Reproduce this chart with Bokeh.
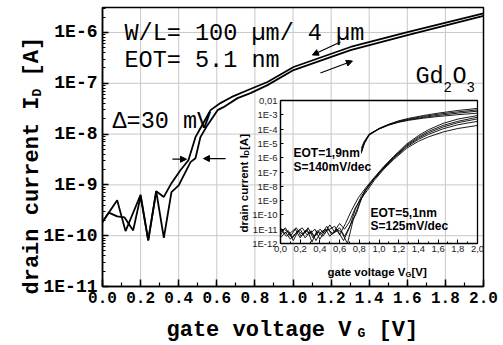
import math
from bokeh.plotting import figure
from bokeh.models import (Range1d, LinearAxis, LogAxis, FixedTicker, Label,
                          Arrow, NormalHead, LogScale)
from bokeh.embed import file_html
from bokeh.resources import INLINE

# ---------------- data ----------------
x_ticks = [0.0, 0.2, 0.4, 0.6, 0.8, 1.0, 1.2, 1.4, 1.6, 1.8, 2.0]
x_tick_labels = ["0.0", "0.2", "0.4", "0.6", "0.8", "1.0", "1.2", "1.4", "1.6", "1.8", "2.0"]
y_ticks = [1e-11, 1e-10, 1e-9, 1e-8, 1e-7, 1e-6]
y_tick_labels = ["1E-11", "1E-10", "1E-9", "1E-8", "1E-7", "1E-6"]

inset_x_labels = ["0,0", "0,2", "0,4", "0,6", "0,8", "1,0", "1,2", "1,4", "1,6", "1,8", "2,0"]
inset_y_ticks = [1e-12, 1e-11, 1e-10, 1e-9, 1e-8, 1e-7, 1e-6, 1e-5, 1e-4, 1e-3, 1e-2]
inset_y_labels = ["1E-12", "1E-11", "1E-10", "1E-9", "1E-8", "1E-7", "1E-6",
                  "1E-5", "1E-4", "1E-3", "0,01"]

# main plot: two sweep directions (hysteresis)
main_v_left = [0.0, 0.033, 0.077, 0.115, 0.161, 0.2, 0.24, 0.282, 0.322, 0.362, 0.409,
               0.451, 0.488, 0.514, 0.567, 0.619, 0.688, 0.761, 0.866, 1.003, 1.302, 1.601, 2.0]
main_i_left = [1.85e-10, 2.85e-10, 2.4e-10, 2.3e-10, 1.27e-10, 5.96e-10, 8.1e-11, 7.5e-10,
               5.8e-10, 1.08e-9, 1.94e-9, 3.05e-9, 8.7e-9, 1.3e-8, 2.96e-8, 4.07e-8, 5.6e-8,
               7.3e-8, 1.06e-7, 2.09e-7, 5.18e-7, 1.02e-6, 2.37e-6]
main_v_right = [0.0, 0.077, 0.121, 0.2, 0.24, 0.282, 0.322, 0.362, 0.4, 0.436, 0.462,
                0.488, 0.514, 0.551, 0.604, 0.635, 0.709, 0.777, 0.866, 1.003, 1.302, 1.601, 2.0]
main_i_right = [1.85e-10, 4.97e-10, 1.23e-10, 6.4e-10, 8.1e-11, 7.5e-10, 9.1e-11, 7.2e-10,
                9.8e-10, 1.8e-9, 2.8e-9, 3.35e-9, 8.7e-9, 1.5e-8, 2.96e-8, 3.39e-8, 5.1e-8,
                6.4e-8, 9.2e-8, 1.82e-7, 4.5e-7, 8.9e-7, 2.11e-6]

# inset: EOT = 1.9 nm bundle
g1_v = [0.82, 0.85, 0.90, 1.0, 1.1, 1.2, 1.3, 1.45, 1.6, 1.8, 2.0]
g1_a = [2.0e-6, 8.9e-6, 4.0e-5, 1.12e-4, 2.2e-4, 3.8e-4, 5.6e-4, 8.9e-4, 1.3e-3, 2.0e-3, 2.8e-3]
g1_b = [3.2e-6, 1.12e-5, 4.2e-5, 1.07e-4, 2.1e-4, 3.5e-4, 5.0e-4, 7.6e-4, 1.1e-3, 1.6e-3, 2.2e-3]
g1_c = [4.5e-6, 1.4e-5, 4.5e-5, 1.05e-4, 2.0e-4, 3.2e-4, 4.5e-4, 6.6e-4, 9.1e-4, 1.3e-3, 1.8e-3]
g1_d = [2.5e-6, 1.0e-5, 3.8e-5, 1.0e-4, 1.9e-4, 3.0e-4, 4.1e-4, 5.8e-4, 7.6e-4, 1.02e-3, 1.3e-3]

# inset: EOT = 5.1 nm bundle
g2_v_a = [0.0, 0.05, 0.10, 0.15, 0.20, 0.25, 0.30, 0.35, 0.40, 0.45, 0.50, 0.55, 0.60, 0.66,
          0.72, 0.79, 0.86, 0.95, 1.05, 1.15, 1.28, 1.40, 1.50, 1.65, 1.80, 2.0]
g2_i_a = [6.3e-12, 1.26e-11, 3.2e-12, 1.0e-11, 2.5e-12, 7.9e-12, 5.0e-12, 1.0e-11, 2.0e-12,
          7.9e-12, 1.0e-11, 1.6e-11, 4.0e-12, 2.5e-11, 2.0e-10, 1.6e-9, 7.1e-9, 4.0e-8, 2.5e-7,
          1.26e-6, 8.9e-6, 3.5e-5, 8.9e-5, 2.5e-4, 5.0e-4, 8.9e-4]
g2_v_b = [0.0, 0.04, 0.09, 0.13, 0.18, 0.23, 0.28, 0.33, 0.38, 0.43, 0.48, 0.53, 0.58, 0.64,
          0.70, 0.76, 0.82, 0.87, 0.95, 1.05, 1.15, 1.28, 1.40, 1.50, 1.65, 1.80, 2.0]
g2_i_b = [4.0e-12, 1.0e-11, 5.0e-12, 1.6e-12, 7.9e-12, 4.0e-12, 1.26e-11, 2.5e-12, 6.3e-12,
          3.2e-12, 1.0e-11, 5.0e-12, 7.9e-12, 1.6e-12, 1.26e-11, 2.5e-10, 2.0e-9, 6.3e-9,
          3.5e-8, 2.2e-7, 1.1e-6, 7.6e-6, 2.8e-5, 6.8e-5, 1.8e-4, 3.5e-4, 6.8e-4]
g2_v_c = [0.0, 0.06, 0.11, 0.16, 0.21, 0.27, 0.32, 0.37, 0.42, 0.47, 0.52, 0.57, 0.62, 0.68,
          0.74, 0.80, 0.86, 0.95, 1.05, 1.15, 1.28, 1.40, 1.50, 1.65, 1.80, 2.0]
g2_i_c = [1.0e-11, 3.2e-12, 6.3e-12, 1.26e-11, 3.2e-12, 1.0e-11, 1.26e-12, 7.9e-12, 5.0e-12,
          1.6e-11, 4.0e-12, 1.0e-11, 6.3e-12, 1.0e-12, 5.0e-11, 6.3e-10, 5.6e-9, 3.2e-8, 2.0e-7,
          1.0e-6, 6.6e-6, 2.3e-5, 5.4e-5, 1.4e-4, 2.8e-4, 5.2e-4]
g2_v_d = [0.0, 0.05, 0.1, 0.15, 0.2, 0.25, 0.3, 0.35, 0.4, 0.45, 0.5, 0.55, 0.6, 0.65, 0.71,
          0.77, 0.82, 0.87, 0.95, 1.05, 1.15, 1.28, 1.40, 1.50, 1.65, 1.80, 2.0]
g2_i_d = [2.5e-12, 6.3e-12, 2.0e-12, 5.0e-12, 1.0e-11, 2.5e-12, 6.3e-12, 3.2e-12, 1.0e-11,
          5.0e-12, 2.0e-11, 6.3e-12, 1.26e-11, 3.2e-12, 2.0e-11, 1.26e-10, 1.26e-9, 5.6e-9,
          3.2e-8, 1.9e-7, 8.9e-7, 5.6e-6, 1.9e-5, 4.2e-5, 1.05e-4, 2.0e-4, 3.5e-4]
g2_v_e = [0.0, 0.04, 0.08, 0.12, 0.17, 0.22, 0.27, 0.31, 0.36, 0.41, 0.46, 0.5, 0.55, 0.6,
          0.65, 0.7, 0.76, 0.82, 0.88, 0.95, 1.05, 1.15, 1.28, 1.40, 1.50, 1.65, 1.80, 2.0]
g2_i_e = [1.26e-11, 5.0e-12, 7.9e-12, 2.5e-12, 6.3e-12, 1.26e-11, 4.0e-12, 7.9e-12, 1.6e-12,
          6.3e-12, 1.0e-11, 3.2e-12, 7.9e-12, 2.5e-11, 1.0e-11, 3.2e-11, 3.2e-10, 1.4e-9, 5.0e-9,
          2.5e-8, 1.6e-7, 7.6e-7, 4.5e-6, 1.4e-5, 2.8e-5, 6.3e-5, 1.1e-4, 1.8e-4]

# ---------------- layout (canvas pixels) ----------------
W, H = 503, 345
PL, PR, PT, PB = 102, 483, 7, 286          # main plot box
IL, IR, IT, IB = 280, 477, 100, 243        # inset plot box
X0, X1 = 0.0, 2.0
Y_BOT, Y_TOP = 1e-11, 3.1e-6
IX0, IX1 = 0.0, 2.0
IY0, IY1 = 1e-12, 1e-2

MONO = "Liberation Mono"
SANS = "Liberation Sans"


def lin_range(a, b, pa, pb, total):
    s = (pb - pa) / (b - a)
    return Range1d(a - pa / s, b + (total - pb) / s)


def log_range(lo, hi, p_lo, p_hi, total):
    d = (p_lo - p_hi) / (math.log10(hi) - math.log10(lo))
    return Range1d(10 ** (math.log10(lo) - (total - p_lo) / d), 10 ** (math.log10(lo) + p_lo / d))


xr = lin_range(X0, X1, PL, PR, W)
yr = log_range(Y_BOT, Y_TOP, PB, PT, H)

p = figure(width=W, height=H, y_axis_type="log", x_range=xr, y_range=yr,
           x_axis_location=None, y_axis_location=None,
           output_backend="svg", toolbar_location=None, min_border=0)
p.min_border_left = p.min_border_right = p.min_border_top = p.min_border_bottom = 0
p.background_fill_color = "white"
p.border_fill_color = "white"
p.outline_line_color = None
p.xgrid.visible = False
p.ygrid.visible = False

p.extra_x_ranges = {"ix": lin_range(IX0, IX1, IL, IR, W)}
p.extra_y_ranges = {"iy": log_range(IY0, IY1, IB, IT, H)}
p.extra_y_scales = {"iy": LogScale()}
IN = dict(x_range_name="ix", y_range_name="iy")

# grid of the main plot (drawn from the tick lists)
p.segment(x0=x_ticks, y0=[Y_BOT] * len(x_ticks), x1=x_ticks, y1=[Y_TOP] * len(x_ticks),
          line_color="#c8c8c8", line_width=1)
p.segment(x0=[X0] * len(y_ticks), y0=y_ticks, x1=[X1] * len(y_ticks), y1=y_ticks,
          line_color="#c8c8c8", line_width=1)

# inset curves
for v, i in [(g2_v_a, g2_i_a), (g2_v_b, g2_i_b), (g2_v_c, g2_i_c), (g2_v_d, g2_i_d), (g2_v_e, g2_i_e)]:
    p.line(v, i, line_color="black", line_width=0.9, **IN)
for i in (g1_a, g1_b, g1_c, g1_d):
    p.line(g1_v, i, line_color="black", line_width=0.9, **IN)
p.quad(left=[IX0], right=[IX1], bottom=[IY0], top=[IY1], fill_color=None,
       line_color="black", line_width=1.3, **IN)

# main curves and frame
p.line(main_v_left, main_i_left, line_color="black", line_width=1.8)
p.line(main_v_right, main_i_right, line_color="black", line_width=1.8)
p.quad(left=[X0], right=[X1], bottom=[Y_BOT], top=[Y_TOP], fill_color=None,
       line_color="black", line_width=1.5)

# main axes
xa = LinearAxis(fixed_location=Y_BOT, bounds=(X0, X1),
                ticker=FixedTicker(ticks=x_ticks, minor_ticks=[0.1 * k for k in range(0, 21)]),
                major_label_overrides=dict(zip(x_ticks, x_tick_labels)))
ya = LogAxis(fixed_location=X0, bounds=(Y_BOT, Y_TOP),
             ticker=FixedTicker(ticks=y_ticks,
                                minor_ticks=[m * 10.0 ** e for e in range(-11, -5) for m in range(2, 10)
                                             if m * 10.0 ** e <= Y_TOP]),
             major_label_overrides=dict(zip(y_ticks, y_tick_labels)))
for ax in (xa, ya):
    ax.axis_line_color = "black"
    ax.axis_line_width = 1.5
    ax.major_tick_line_width = 1.5
    ax.minor_tick_line_width = 1.2
    ax.major_tick_out = 0
    ax.minor_tick_out = 0
    ax.major_label_text_font = MONO
    ax.major_label_text_font_style = "bold"
    ax.major_label_text_color = "black"
xa.major_tick_in = 7
xa.minor_tick_in = 4
ya.major_tick_in = 6
ya.minor_tick_in = 3
xa.major_label_text_font_size = "16px"
ya.major_label_text_font_size = "18px"
xa.major_label_standoff = 5
ya.major_label_standoff = 5
p.add_layout(xa, "below")
p.add_layout(ya, "left")

# inset axes
iax = LinearAxis(fixed_location=IY0, bounds=(IX0, IX1),
                 ticker=FixedTicker(ticks=x_ticks, minor_ticks=[0.1 * k for k in range(0, 21)]),
                 major_label_overrides=dict(zip(x_ticks, inset_x_labels)), **IN)
iay = LogAxis(fixed_location=IX0, bounds=(IY0, IY1),
              ticker=FixedTicker(ticks=inset_y_ticks),
              major_label_overrides=dict(zip(inset_y_ticks, inset_y_labels)), **IN)
for ax in (iax, iay):
    ax.axis_line_color = "black"
    ax.axis_line_width = 1.2
    ax.major_tick_out = 0
    ax.minor_tick_out = 0
    ax.major_tick_in = 4
    ax.minor_tick_in = 2
    ax.major_label_text_font = SANS
    ax.major_label_text_font_size = "9.5px"
    ax.major_label_text_color = "#222222"
    ax.major_label_standoff = 3
iay.major_tick_in = 3
iax.major_label_standoff = 2
p.add_layout(iax, "below")
p.add_layout(iay, "left")


# texts are anchored at the canvas top-left corner and shifted in pixels
def put(text, fx, fy, size, font=MONO, style="normal", angle=0.0):
    p.add_layout(Label(x=xr.start, y=yr.end, x_offset=fx, y_offset=-fy, text=text,
                       text_font=font, text_font_size=f"{size}px", text_font_style=style,
                       angle=angle, text_align="left", text_baseline="alphabetic",
                       text_color="black"))


put("W/L= 100 \u00b5m/ 4 \u00b5m", 124, 33, 23.5)
put("EOT= 5.1 nm", 124, 60, 23.5)
put("\u0394=30 mV", 112, 121, 23.5)
put("Gd", 415, 76, 23.5)
put("2", 443, 86, 14)
put("O", 452, 76, 23.5)
put("3", 466, 86, 14)

put("EOT=1,9nm", 293, 152, 12, SANS, "bold")
put("S=140mV/dec", 293, 166, 12, SANS, "bold")
put("EOT=5,1nm", 370, 212, 12, SANS, "bold")
put("S=125mV/dec", 370, 225, 12, SANS, "bold")

put("gate voltage V", 327, 271, 11.5, SANS, "bold")
put("G", 405, 274, 7.5, SANS, "bold")
put(" [V]", 411, 271, 11.5, SANS, "bold")
put("drain current I", 243, 232, 11.5, SANS, "bold", math.pi / 2)
put("D", 245.5, 155, 7.5, SANS, "bold", math.pi / 2)
put(" [A]", 243, 149.5, 11.5, SANS, "bold", math.pi / 2)

put("gate voltage V", 166, 330, 22, MONO, "bold")
put("G", 357, 333, 13, MONO, "bold")
put("[V]", 378, 330, 22, MONO, "bold")
put("drain current I", 32, 294, 22, MONO, "bold", math.pi / 2)
put("D", 37, 96, 13, MONO, "bold", math.pi / 2)
put("[A]", 32, 76, 22, MONO, "bold", math.pi / 2)

# sweep direction arrows and hysteresis markers
for xs, ys, xe, ye in [(1.249, 6.5e-7, 1.102, 3.6e-7), (1.144, 1.59e-7, 1.312, 2.74e-7),
                       (0.367, 3.2e-9, 0.441, 3.2e-9), (0.646, 3.3e-9, 0.530, 3.3e-9)]:
    p.add_layout(Arrow(end=NormalHead(size=6, fill_color="black", line_color="black"),
                       x_start=xs, y_start=ys, x_end=xe, y_end=ye,
                       line_color="black", line_width=1.2))

open("out.html", "w").write(file_html(p, INLINE))
